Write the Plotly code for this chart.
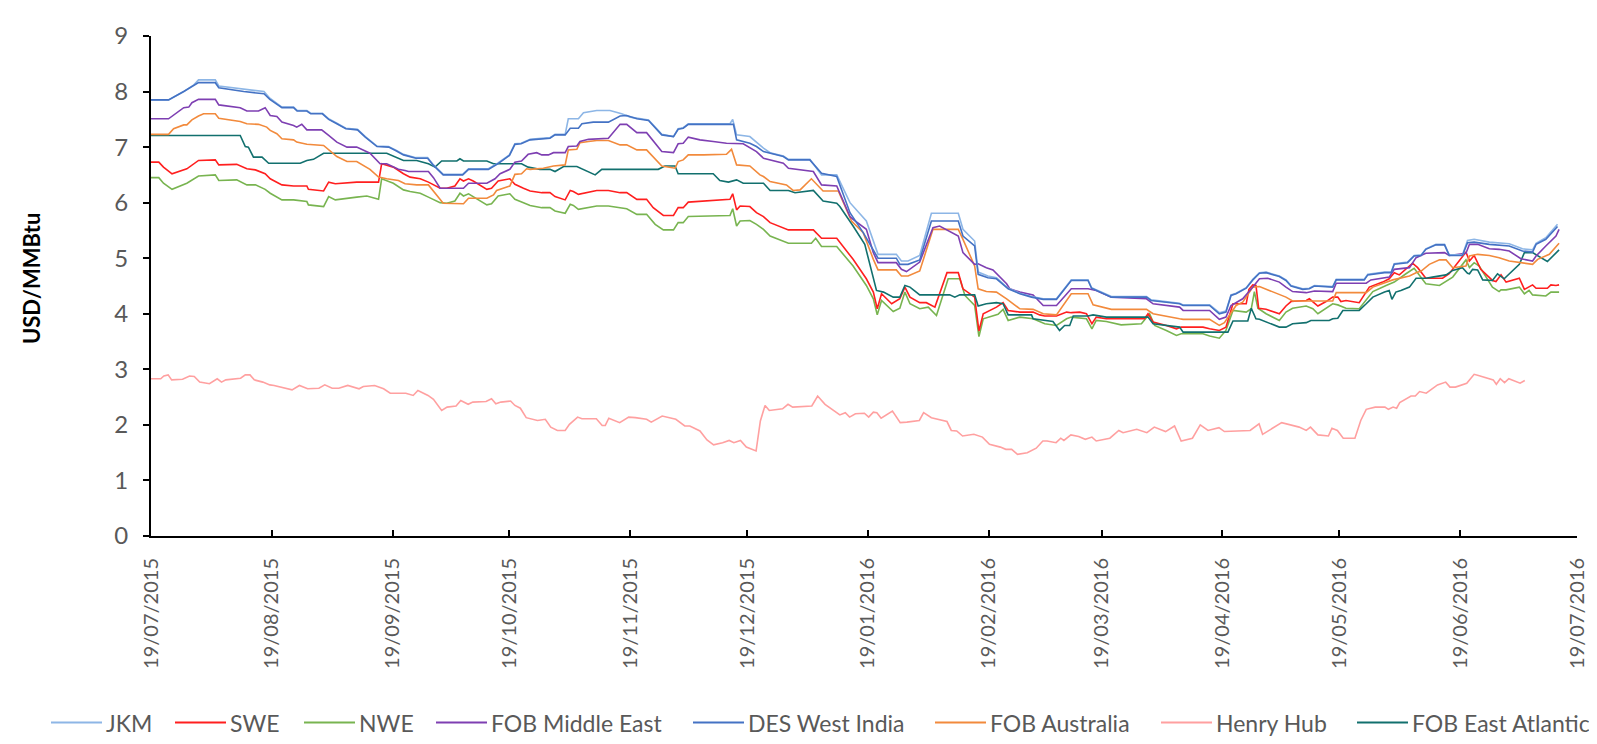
import pandas as pd
import plotly.graph_objects as go

START = pd.Timestamp("2015-07-19")

# ---- data: (days since 19/07/2015, USD/MMBtu) ----
jkm_days = [0,4.5,8.4,11,12.2,16.5,17.4,23.8,29,30.5,33.6,36.6,37.5,40,41,44,45.6,47.7,50,53,55,58,61,63,64.8,68,71,72.5,75,80,81.5,86.6,89,92,93.4,95,97.3,102.4,103.7,106.3,107.1,109.7,111,114.4,117.8,120.8,123,127.7,131.1,134.1,135.3,136.6,137.9,148.6,149.3,150.3,153.7,157.2,158.9,162.3,163.6,169.1,172.1,176,179.4,183.6,186.6,191.3,192.6,194.3,197.3,200.3,207.2,208.4,211.4,212.3,214.8,217,220,223,226,229,232.4,236.2,240.5,241.4,246.5,255.5,256.7,264,264.9,271.7,274.2,275.9,277.2,278.5,281.1,282.8,284.5,286.2,289.6,291.3,292.6,295.6,297.3,298.6,303.3,304.2,311.4,312.3,316.6,318.3,319.1,322.5,324.2,326,327.2,329.8,332,333.2,336.6,337.9,339.6,343.5,346,348.6,352,354.6,355.5,358,361]
jkm_vals = [7.85,7.85,8.0,8.12,8.21,8.21,8.1,8.04,8.0,7.88,7.72,7.72,7.66,7.66,7.61,7.61,7.51,7.43,7.34,7.32,7.19,7.02,7.01,6.94,6.87,6.81,6.81,6.68,6.51,6.51,6.61,6.61,6.71,6.86,7.06,7.07,7.14,7.17,7.23,7.23,7.51,7.51,7.62,7.66,7.66,7.6,7.54,7.49,7.23,7.19,7.33,7.35,7.42,7.42,7.5,7.22,7.19,6.98,6.9,6.84,6.78,6.78,6.5,6.5,6.0,5.67,5.07,5.07,4.95,4.95,5.05,5.81,5.81,5.52,5.31,4.75,4.68,4.65,4.46,4.37,4.31,4.27,4.27,4.61,4.61,4.47,4.31,4.31,4.25,4.19,4.16,4.16,4.02,4.05,4.34,4.37,4.47,4.62,4.74,4.75,4.68,4.61,4.51,4.45,4.46,4.51,4.49,4.62,4.62,4.71,4.75,4.75,4.9,4.93,5.05,5.06,5.17,5.25,5.25,5.06,5.06,5.32,5.34,5.29,5.27,5.26,5.17,5.15,5.27,5.37,5.61]

swe_days = [0,2,3.2,5.4,9.2,12.2,16.5,17.4,22,24.6,26.8,29.3,30.6,33.6,36.6,40,40.4,44.3,45.6,47.3,52.8,55.4,58.4,59.2,62.2,64.8,66.5,69.1,71.2,74.2,75.9,78,79.3,80.2,81.5,82.7,86.2,87.4,89.1,92.1,93.4,95.6,97.3,100.3,102.4,103.7,106.3,107.6,108.4,109.7,112.7,114.4,117.4,120.4,122.1,124.7,127.2,128.9,131.5,134.1,135.3,136.6,137.9,148.6,149.3,150.3,151.2,153.7,155.4,157.2,158.9,163.6,170,172.1,176,180.2,183.6,185.4,186.4,187.5,190.1,192.2,193.5,194.8,197.3,199,201.2,204.3,207.2,208.4,211.4,212.5,213.6,215.3,217,218.7,220,223,226.4,228.1,229.4,232.4,235,236.2,238.4,240.1,241.5,242.6,245.2,255,255.9,257.2,260.6,263.2,264.4,270,271.7,274.2,275.9,277.7,281.1,281.8,282.8,283.6,284.3,286.2,289.6,291.3,292.6,296.5,297.3,299.5,301.6,303.3,304.6,305.4,306.7,310.1,312.7,316.1,317.8,319.1,320.4,323.8,325.1,327.2,331.5,333.2,336.6,337.5,338.4,339.6,341.3,344.3,345.2,346.5,347.8,351.2,352.5,353.7,354.6,355.5,358.4,359.3,360.6,361.4]
swe_vals = [6.73,6.73,6.64,6.52,6.61,6.76,6.77,6.68,6.69,6.61,6.59,6.52,6.43,6.32,6.3,6.3,6.24,6.21,6.37,6.34,6.37,6.37,6.37,6.7,6.64,6.52,6.46,6.43,6.37,6.26,6.26,6.3,6.43,6.39,6.43,6.39,6.24,6.26,6.39,6.43,6.33,6.26,6.21,6.18,6.18,6.11,6.05,6.22,6.2,6.15,6.19,6.22,6.22,6.18,6.18,6.06,6.06,5.91,5.77,5.77,5.91,5.91,6.01,6.06,6.16,5.87,5.94,5.93,5.82,5.75,5.64,5.51,5.51,5.36,5.36,4.98,4.63,4.39,4.09,4.36,4.18,4.27,4.48,4.3,4.2,4.2,4.12,4.74,4.74,4.45,4.3,3.69,4.0,4.06,4.12,4.2,4.06,4.03,4.03,3.98,3.96,3.96,4.03,4.02,4.03,4.0,3.82,3.94,3.91,3.91,4.0,3.85,3.79,3.73,3.76,3.76,3.73,3.7,3.76,4.18,4.18,4.44,4.52,4.51,4.1,4.08,4.0,4.14,4.22,4.24,4.27,4.14,4.22,4.3,4.3,4.22,4.24,4.2,4.48,4.57,4.63,4.74,4.7,4.91,4.83,4.64,4.64,4.72,5.04,5.11,4.95,5.05,4.8,4.6,4.58,4.7,4.57,4.64,4.44,4.48,4.52,4.46,4.46,4.52,4.51,4.52]

nwe_days = [0,2,3.2,5.4,9.2,12.2,16.5,17.4,22,24.6,26.8,29.3,30.6,33.6,36.6,40,40.4,44.3,45.6,47.3,52.8,55.4,58.4,59.2,62.2,64.8,66.5,69.1,71.2,74.2,75.9,78,79.3,80.2,81.5,82.7,86.2,87.4,89.1,92.1,93.4,95.6,97.3,100.3,102.4,103.7,106.3,107.6,108.4,109.7,112.7,114.4,117.4,120.4,122.1,124.7,127.2,129.4,131.5,134.1,135.3,136.6,137.9,148.6,149.3,150.3,151.2,153.7,155.4,157.2,158.9,163.6,169.5,170.6,172.1,176,180.2,183.6,185.4,186.4,187.5,190.5,192.2,193.5,194.8,197.3,199.5,201.6,204.6,207.6,208.9,211.4,212.5,213.6,215.3,217.4,218.7,220,223,226.4,229.4,232.4,235,236.2,240.1,241.5,242.6,245.2,249,254.2,256.3,257.6,260.6,263.2,264.4,270,271.7,274.2,275.9,277.7,281.1,282.4,283.2,284.1,286.2,289.6,291.3,293,296.5,298.2,299.5,301.6,303.3,304.6,306.7,310.1,311.9,313.6,317,319.1,322.1,324.2,327.2,330.7,334.1,337.5,338.4,339.6,340.9,344.3,346,346.5,347.8,351.2,352.5,353.7,354.6,358,359.3,361.4]
nwe_vals = [6.45,6.45,6.35,6.24,6.35,6.48,6.5,6.4,6.41,6.32,6.32,6.24,6.17,6.05,6.05,6.02,5.96,5.93,6.11,6.05,6.1,6.12,6.06,6.43,6.35,6.23,6.2,6.17,6.1,6.0,5.99,6.03,6.17,6.12,6.16,6.11,5.96,5.98,6.12,6.16,6.06,6.0,5.95,5.91,5.91,5.85,5.81,5.97,5.95,5.88,5.91,5.94,5.94,5.91,5.89,5.79,5.79,5.61,5.51,5.51,5.64,5.64,5.75,5.77,5.89,5.58,5.67,5.68,5.61,5.52,5.4,5.27,5.27,5.36,5.21,5.21,4.86,4.51,4.27,3.98,4.24,4.04,4.1,4.39,4.18,4.09,4.12,3.97,4.63,4.63,4.33,4.15,3.59,3.91,3.94,3.99,4.08,3.88,3.94,3.91,3.82,3.79,3.91,3.94,3.91,3.73,3.88,3.86,3.8,3.82,4.0,3.79,3.7,3.61,3.64,3.64,3.6,3.56,3.7,4.06,4.03,4.09,4.4,4.1,4.0,3.88,4.03,4.1,4.14,4.09,4.0,4.1,4.18,4.16,4.1,4.09,4.24,4.4,4.51,4.57,4.72,4.82,4.54,4.51,4.66,4.97,4.83,4.92,4.86,4.48,4.4,4.43,4.43,4.48,4.36,4.42,4.34,4.32,4.39,4.39]

fme_days = [0,4.5,8.4,9.7,10.5,12.2,16.5,17.4,22.9,24.6,27.6,29.3,30.6,32.3,33.6,36.6,37.4,38.7,40,43.8,45.6,47.7,50.3,52.8,56.2,58.8,60.5,63.5,65.2,66.1,71.2,72.5,74.2,80.2,81.5,86.2,88.3,89.6,92.1,93.4,95.1,96.8,99,100.3,102,103.3,106.3,107.1,109.3,110.1,112.3,117.4,120.4,122.1,124.7,127.2,131.1,134.1,135.3,136.6,137.9,140.9,144.3,147.7,152,155.4,157.2,162.3,163.6,170,172.1,176,179.4,180.2,183.6,185.4,186.6,191.3,192.6,193.9,197.3,200.7,202.4,207.2,208.4,211.4,212.3,214.4,216.1,219.6,220.4,223,226.4,229,232.4,236.2,240.5,242.6,246.5,255.5,257.2,264,264.9,271.7,274.2,275.9,277.2,280.2,282.8,284.5,286.6,289.6,291.3,293,296.5,298.6,303.3,304.2,311.9,313.1,317.8,319.1,323,324.7,327.2,332,333.2,337.5,338.4,340.5,343.5,346,348.6,351.6,354.6,355.5,358,360.6,361.4]
fme_vals = [7.51,7.51,7.71,7.72,7.8,7.86,7.86,7.76,7.71,7.65,7.65,7.71,7.57,7.55,7.45,7.39,7.36,7.41,7.31,7.31,7.21,7.09,7.0,7.0,6.89,6.7,6.7,6.6,6.58,6.56,6.56,6.45,6.26,6.26,6.35,6.35,6.43,6.52,6.6,6.73,6.75,6.87,6.9,6.86,6.86,6.9,6.9,7.01,7.02,7.1,7.14,7.16,7.41,7.41,7.26,7.26,6.92,6.9,7.06,7.07,7.18,7.13,7.1,7.07,7.06,6.92,6.8,6.71,6.62,6.56,6.32,6.3,5.75,5.7,5.52,5.1,4.92,4.92,4.8,4.76,4.93,5.55,5.58,5.4,5.1,4.89,4.9,4.83,4.79,4.54,4.45,4.39,4.34,4.15,4.15,4.45,4.45,4.42,4.3,4.27,4.18,4.12,4.06,4.06,3.9,3.94,4.15,4.27,4.48,4.63,4.64,4.57,4.48,4.4,4.38,4.41,4.4,4.55,4.55,4.61,4.66,4.8,4.83,5.01,5.09,5.1,5.05,5.09,5.25,5.25,5.17,5.16,5.13,4.99,4.95,5.04,5.22,5.4,5.52]

des_days = [0,4.5,8.4,11,12.2,16.5,17.4,23.8,29,30.5,33.6,36.6,37.5,40,41,44,45.6,47.7,50,53,55,58,61,63,64.8,68,71,72.5,75,80,81.5,86.6,89,92,93.4,95,97.3,102.4,103.7,106.3,107.6,109.7,110.6,113.5,117.4,120.4,122.1,124.7,127.7,131.1,134.1,135.3,136.6,137.9,149.5,150.3,153.7,155.4,157.2,162.3,163.6,169.1,172.1,176,179.4,182.8,186.6,191.3,192.2,194.3,197.3,200.3,207.2,208.4,211.4,212.3,214.8,217,220,223,226,229,232.4,236.2,240.5,241.4,246.5,255.5,256.7,264,264.9,271.7,274.2,275.9,277.2,278.5,281.1,282.8,284.5,286.2,289.6,291.3,292.6,295.6,297.3,298.6,303.3,304.2,311.4,312.3,316.6,318.3,319.1,322.5,324.2,326,327.2,329.8,332,333.2,336.6,337.9,339.6,343.5,346,348.6,352,354.6,355.5,358,361]
des_vals = [7.85,7.85,8.0,8.1,8.16,8.16,8.07,8.0,7.96,7.86,7.71,7.71,7.65,7.65,7.6,7.6,7.5,7.42,7.33,7.31,7.18,7.01,7.0,6.93,6.86,6.8,6.8,6.67,6.5,6.5,6.6,6.6,6.7,6.85,7.05,7.06,7.13,7.16,7.22,7.22,7.34,7.34,7.42,7.45,7.45,7.56,7.57,7.51,7.48,7.22,7.19,7.32,7.34,7.41,7.41,7.13,7.07,7.01,6.92,6.83,6.77,6.77,6.53,6.47,5.82,5.46,5.0,5.0,4.89,4.89,4.97,5.67,5.67,5.4,5.22,4.71,4.65,4.63,4.45,4.36,4.3,4.26,4.26,4.6,4.6,4.46,4.3,4.3,4.24,4.18,4.15,4.15,4.0,4.03,4.33,4.36,4.46,4.61,4.73,4.74,4.67,4.6,4.5,4.44,4.45,4.5,4.48,4.61,4.61,4.7,4.74,4.74,4.89,4.92,5.04,5.05,5.16,5.24,5.24,5.05,5.05,5.28,5.29,5.25,5.23,5.22,5.13,5.11,5.25,5.34,5.57]

fau_days = [0,4.5,5.8,8.4,9.2,10.5,12.2,13.5,16.5,17.4,22.9,24.6,27.6,29.7,30.6,32.3,33.6,36.6,37.4,40,44.3,45.6,47.7,50.3,52.8,56.2,58.4,60.5,63.5,65.2,68.2,71.2,73.3,75,80.2,81.5,86.2,87.9,88.7,92.1,93.4,95.1,96.4,97.3,100.7,103.3,106.3,107.1,109.3,110.1,112.3,114.4,117.4,120.4,122.1,124.7,127.2,131.1,134.5,135.3,136.6,137.9,141.8,147.7,149,150.3,153.7,156.3,157.2,158.9,163.1,164.8,166.6,169.5,172.5,176.4,179.8,182.8,185.4,186.6,191.3,192.6,194.3,197.3,200.7,207.2,208.4,211.4,212.3,214.4,217,219.6,223,226.4,229,232.4,236.2,240.5,241.8,246.5,255.5,257.2,264,264.9,271.7,274.2,275.5,277.2,278.5,280.2,282.8,284.5,290,291.3,293,303.3,304.2,311.9,313.6,318.7,323,324.7,326,328.1,330.7,332.4,334.1,337.5,338.4,340.5,343.5,346,348.6,352,354.6,355.9,358.9,361.4]
fau_vals = [7.23,7.23,7.33,7.4,7.4,7.49,7.56,7.6,7.6,7.52,7.46,7.42,7.41,7.36,7.3,7.24,7.15,7.13,7.09,7.05,7.03,6.95,6.83,6.74,6.74,6.6,6.46,6.43,6.4,6.34,6.32,6.32,6.14,5.99,5.98,6.08,6.08,6.14,6.22,6.3,6.51,6.52,6.61,6.6,6.62,6.66,6.68,6.95,6.96,7.08,7.1,7.12,7.12,7.04,7.04,6.95,6.95,6.66,6.62,6.74,6.77,6.86,6.86,6.87,6.96,6.68,6.66,6.5,6.47,6.38,6.32,6.22,6.23,6.43,6.21,6.21,5.67,5.46,4.98,4.79,4.79,4.68,4.68,4.77,5.52,5.52,5.34,4.86,4.45,4.4,4.39,4.27,4.09,4.08,4.0,3.98,4.36,4.36,4.16,4.08,4.08,4.0,3.91,3.9,3.9,3.79,3.84,4.03,4.15,4.21,4.48,4.49,4.33,4.3,4.23,4.23,4.38,4.38,4.48,4.61,4.68,4.74,4.77,4.89,4.97,4.97,4.83,4.86,5.04,5.07,5.05,5.01,4.95,4.92,4.89,4.98,5.07,5.27]

hh_days = [0,2.5,3.3,4.4,5.3,8.1,9.9,11.1,12.5,15,17,18.1,19.2,23,24.2,25.4,26.5,28.7,30.5,31.6,36.2,38.1,40.2,43.1,44.6,46.5,48.2,50.5,53.4,54.5,57.4,59.7,61.4,65.4,67.3,68.5,71.1,72.5,74.6,76,78.3,79.5,81.4,82.6,86,87.4,88.5,89.8,92.3,93.4,94.8,96.3,99.2,101.2,102.6,104.3,106.3,107.4,109.5,110.6,114.3,115.8,116.6,117.5,120.3,122.6,124.3,127.2,128.4,131.2,134.7,137,138.3,140.9,142.7,144.4,146.7,148.4,149.6,151.3,152.8,155.3,156.4,157.6,158.7,162.1,163.5,164.7,169.6,171.1,173,176.8,178.2,179.3,180.8,183.1,184.2,185.4,186.3,187.4,190.3,192.3,194,197.2,198.3,200.3,204.3,205.4,206.8,208.3,211.2,213.4,215.2,218,219.4,220.9,222.4,224.9,227.2,228.9,230,232.3,233.5,234.3,236.1,238.1,239.8,241.5,242.6,246.1,248.4,249.5,253,255.6,257.5,260.4,262.7,264.4,267.3,269.3,271.3,274.1,275.5,282.1,284.4,285.3,290.2,294.7,296.5,297.6,299.5,302.2,303.1,304.5,306,309,310.5,311.9,314.2,316.7,317.6,318.8,319.7,320.5,323.4,324.5,325.6,327.3,330.2,332.3,333.4,334.8,337.7,339.6,340.7,344.5,345.3,346.3,347.4,348.5,351.4,352.6]
hh_vals = [2.83,2.83,2.88,2.9,2.81,2.82,2.88,2.87,2.77,2.74,2.83,2.77,2.81,2.84,2.9,2.9,2.81,2.77,2.72,2.71,2.63,2.71,2.65,2.66,2.72,2.66,2.66,2.71,2.65,2.69,2.71,2.65,2.57,2.57,2.53,2.62,2.53,2.46,2.26,2.32,2.34,2.44,2.37,2.41,2.42,2.47,2.38,2.41,2.43,2.35,2.3,2.13,2.08,2.1,1.96,1.9,1.9,2.01,2.14,2.11,2.11,1.99,1.99,2.12,2.04,2.14,2.13,2.1,2.05,2.16,2.1,1.98,1.98,1.89,1.73,1.64,1.68,1.72,1.68,1.72,1.6,1.53,2.07,2.35,2.26,2.29,2.37,2.32,2.34,2.52,2.37,2.18,2.22,2.14,2.2,2.21,2.14,2.23,2.22,2.12,2.25,2.04,2.05,2.08,2.22,2.13,2.06,1.9,1.89,1.8,1.83,1.78,1.65,1.6,1.56,1.56,1.47,1.5,1.58,1.71,1.71,1.68,1.76,1.72,1.82,1.79,1.74,1.78,1.71,1.76,1.9,1.86,1.92,1.86,1.96,1.88,1.98,1.71,1.76,2.0,1.9,1.95,1.88,1.9,2.02,1.83,2.04,1.96,1.9,1.96,1.82,1.8,1.94,1.9,1.76,1.76,2.08,2.28,2.32,2.32,2.28,2.32,2.3,2.4,2.52,2.52,2.6,2.57,2.72,2.77,2.68,2.68,2.75,2.91,2.89,2.81,2.73,2.83,2.76,2.83,2.75,2.8]

fea_days = [0,22.9,24.2,25,26.3,28.5,30.2,38.3,40,41.7,44.3,60.5,64.8,68.2,71.2,72.9,74.6,78.5,79.3,80.2,86.2,87.9,95.1,96.8,99.8,102.4,103.7,105.9,109.3,111,114,115.7,130.2,131.9,134.5,135.3,144.3,146,148.2,150.3,152,157.2,158.9,163.6,165.3,170,172.5,176,176.8,180.2,183.2,186.2,188,190.5,192.2,193.5,194.8,197.3,205,206.3,207.6,211.4,212.3,214.4,217,218.7,220,226,226.4,231.5,233.2,234.5,235.8,236.7,240.5,241.8,245.2,255.9,257.2,264,264.9,276.4,277.7,281.5,282.4,283.6,284.5,289.6,291.3,293,296.5,297.7,302.4,303.3,304.6,305.9,310.1,311.9,313.6,316.6,317.8,318.5,319.5,320.8,323,324.7,327.2,328.9,332.4,334.1,336.6,337.9,338.4,339.2,340.5,341.8,344.3,345.6,347.3,351.2,352.5,354.6,358.4,361.4]
fea_vals = [7.21,7.21,7.01,7.0,6.82,6.82,6.71,6.71,6.76,6.78,6.89,6.89,6.76,6.76,6.7,6.64,6.75,6.75,6.79,6.75,6.75,6.7,6.7,6.64,6.6,6.6,6.56,6.65,6.65,6.6,6.5,6.6,6.6,6.66,6.66,6.52,6.52,6.4,6.37,6.41,6.35,6.35,6.22,6.22,6.18,6.22,6.03,5.99,5.93,5.58,5.25,4.42,4.39,4.3,4.3,4.51,4.48,4.34,4.34,4.3,4.34,4.34,4.14,4.18,4.2,4.18,3.98,3.98,3.91,3.86,3.7,3.79,3.79,3.96,3.96,3.98,3.94,3.94,3.82,3.76,3.67,3.67,3.87,3.87,4.1,3.91,3.9,3.76,3.76,3.82,3.84,3.88,3.88,3.91,3.92,4.06,4.06,4.18,4.3,4.39,4.42,4.26,4.39,4.42,4.48,4.64,4.64,4.66,4.7,4.78,4.83,4.73,4.72,4.8,4.79,4.61,4.6,4.72,4.63,4.89,5.1,5.1,4.94,5.15]

series_names = ["JKM", "SWE", "NWE", "FOB Middle East", "DES West India",
                "FOB Australia", "Henry Hub", "FOB East Atlantic"]
series_days = [jkm_days, swe_days, nwe_days, fme_days, des_days, fau_days, hh_days, fea_days]
series_vals = [jkm_vals, swe_vals, nwe_vals, fme_vals, des_vals, fau_vals, hh_vals, fea_vals]
series_colors = ["#8DB6E6", "#FF1F1F", "#78B450", "#7E3FB2", "#4472C4",
                 "#F28A3C", "#FFA0A0", "#12706E"]

tick_dates = pd.date_range("2015-07-01", "2016-07-01", freq="MS") + pd.Timedelta(days=18)

FONT = "Lato"

fig = go.Figure()
order = [6, 2, 1, 7, 5, 3, 0, 4]  # back to front
for i in order:
    x = START + pd.to_timedelta(series_days[i], unit="D")
    fig.add_trace(go.Scatter(x=x, y=series_vals[i], mode="lines", name=series_names[i],
                             line=dict(color=series_colors[i], width=1.6),
                             showlegend=False))

# the page body adds an 8px offset; layout positions below are in screen pixels
W, H = 1597, 744
OFF = 8
L, R, T, B = 143, 28, 24, 216
pw, ph = W - L - R, H - T - B


def px_x(sx):  # screen x -> paper
    return (sx - OFF - L) / pw


def px_y(sy):  # screen y -> paper
    return (H - B - (sy - OFF)) / ph


leg_line_x = [51, 175, 304, 436, 693, 935, 1161, 1357]
leg_y = 724
shapes = []
annotations = []
for i, name in enumerate(series_names):
    x0 = leg_line_x[i]
    shapes.append(dict(type="line", xref="paper", yref="paper",
                       x0=px_x(x0), x1=px_x(x0 + 51), y0=px_y(leg_y), y1=px_y(leg_y),
                       line=dict(color=series_colors[i], width=2)))
    annotations.append(dict(text=name, xref="paper", yref="paper", x=px_x(x0 + 53), y=px_y(leg_y),
                            xanchor="left", yanchor="middle", showarrow=False,
                            font=dict(family=FONT, size=23, color="#595959")))

annotations.append(dict(text="<b>USD/MMBtu</b>", xref="paper", yref="paper",
                        x=px_x(31), y=px_y(277), textangle=-90, showarrow=False,
                        xanchor="center", yanchor="middle",
                        font=dict(family=FONT, size=22, color="#000000")))

fig.update_layout(
    width=W, height=H,
    margin=dict(l=L, r=R, t=T, b=B),
    paper_bgcolor="white", plot_bgcolor="white",
    shapes=shapes, annotations=annotations,
    showlegend=False,
    font=dict(family=FONT),
)
fig.update_xaxes(type="date", range=["2015-07-19", "2016-07-19"],
                 tickvals=list(tick_dates), tickformat="%d/%m/%Y", tickangle=-90,
                 ticks="inside", ticklen=6, tickwidth=1.5, tickcolor="black",
                 showline=True, linecolor="black", linewidth=2, showgrid=False, zeroline=False,
                 tickfont=dict(family=FONT, size=20, color="#595959"), ticklabelstandoff=12)
fig.update_yaxes(range=[0, 9], dtick=1, ticks="outside", ticklen=6, tickwidth=1.5,
                 tickcolor="black", showline=True, linecolor="black", linewidth=2,
                 showgrid=False, zeroline=False,
                 tickfont=dict(family=FONT, size=24, color="#595959"), ticklabelstandoff=10)

fig.write_html("out.html")
